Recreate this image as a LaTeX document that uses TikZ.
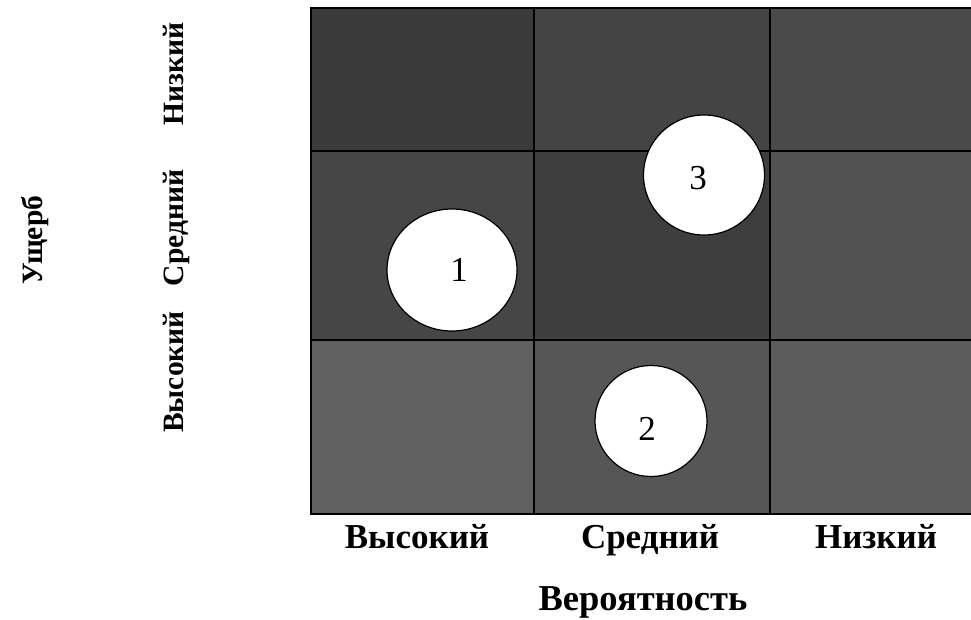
\documentclass[tikz,border=0pt]{standalone}
\usepackage{fontspec}
\setmainfont{Liberation Serif}
\usetikzlibrary{shapes.geometric}
\tikzset{
  gridline/.style={line width=2.4pt, black},
  lbl/.style={font=\fontsize{35}{40}\selectfont\bfseries, inner sep=0pt, anchor=base},
  sidelbl/.style={font=\fontsize{29.5}{34}\selectfont\bfseries, inner sep=0pt, anchor=base, rotate=90},
  risk/.style={ellipse, fill=white, draw=black, line width=1.2pt, inner sep=0pt},
  num/.style={font=\fontsize{35}{40}\selectfont, inner sep=0pt}
}
\begin{document}
\begin{tikzpicture}[x=1pt,y=-1pt]
\useasboundingbox (0,0) rectangle (971,619);
% cells
\fill[color={rgb,255:red,58;green,58;blue,58}] (311,8) rectangle (534,151);
\fill[color={rgb,255:red,68;green,68;blue,68}] (534,8) rectangle (770,151);
\fill[color={rgb,255:red,74;green,74;blue,74}] (770,8) rectangle (971,151);
\fill[color={rgb,255:red,70;green,70;blue,70}] (311,151) rectangle (534,340);
\fill[color={rgb,255:red,62;green,62;blue,62}] (534,151) rectangle (770,340);
\fill[color={rgb,255:red,82;green,82;blue,82}] (770,151) rectangle (971,340);
\fill[color={rgb,255:red,96;green,96;blue,96}] (311,340) rectangle (534,514);
\fill[color={rgb,255:red,86;green,86;blue,86}] (534,340) rectangle (770,514);
\fill[color={rgb,255:red,92;green,92;blue,92}] (770,340) rectangle (971,514);
% grid
\draw[gridline] (971,8) -- (311,8) -- (311,514) -- (971,514);
\draw[gridline] (534,8) -- (534,514);
\draw[gridline] (770,8) -- (770,514);
\draw[gridline] (311,151) -- (971,151);
\draw[gridline] (311,340) -- (971,340);
% risks
\node[risk, minimum width=130pt, minimum height=122pt] (r1) at (452,270) {};
\node[risk, minimum width=121pt, minimum height=120pt] (r3) at (704,175) {};
\node[risk, minimum width=112pt, minimum height=111pt] (r2) at (651,421) {};
\node[num] (n1) at (459,270) {1};
\node[num] (n3) at (698,178) {3};
\node[num] (n2) at (647,429) {2};
% bottom labels
\node[lbl] (p1) at (417,548) {Высокий};
\node[lbl] (p2) at (650,548) {Средний};
\node[lbl] (p3) at (876,548) {Низкий};
\node[lbl, font=\fontsize{36.5}{42}\selectfont\bfseries] (pt) at (643,610) {Вероятность};
% left labels
\node[sidelbl] (d1) at (183,372) {Высокий};
\node[sidelbl] (d2) at (183,228) {Средний};
\node[sidelbl] (d3) at (183,74) {Низкий};
\node[sidelbl] (dt) at (42,240) {Ущерб};
\end{tikzpicture}
\end{document}
